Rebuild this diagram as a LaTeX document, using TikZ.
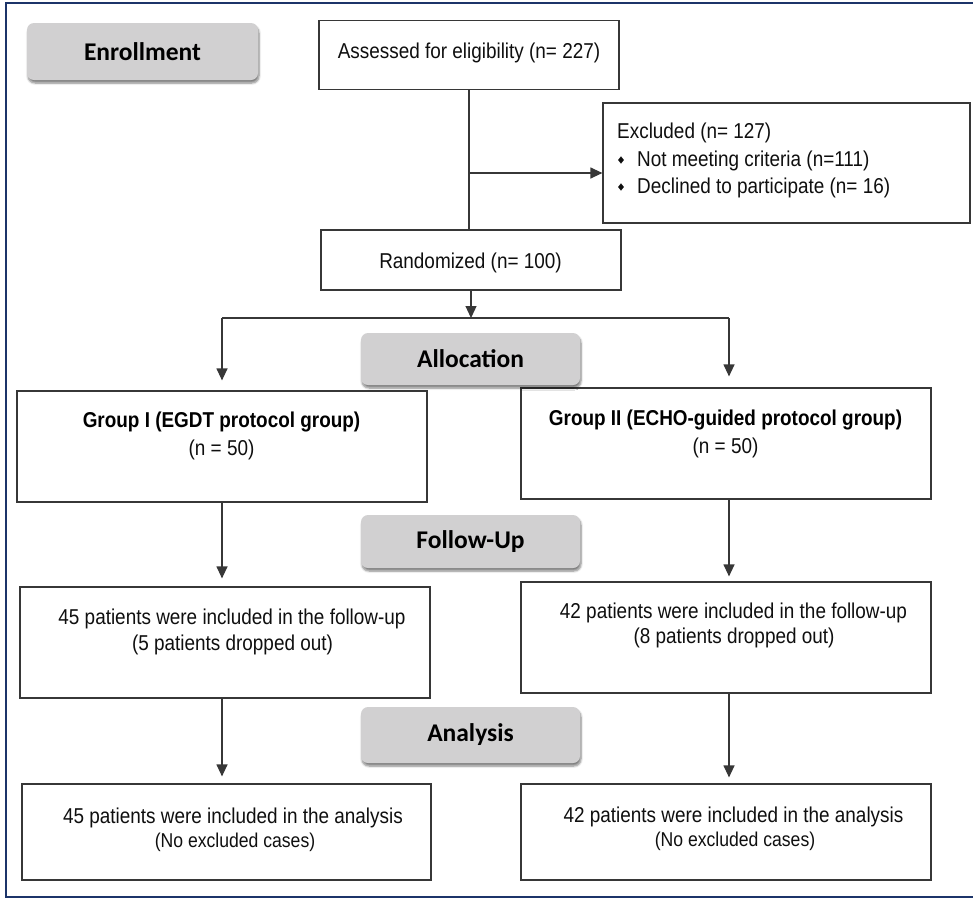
\documentclass[tikz,border=0pt]{standalone}
\usepackage{fontspec}
\setmainfont{Liberation Sans}[FakeStretch=0.88]
\newfontfamily\pillfont{Carlito}
\usetikzlibrary{arrows.meta,shapes.geometric,shadows.blur}
\definecolor{framecol}{RGB}{28,52,105}
\definecolor{pillfill}{RGB}{209,208,209}
\definecolor{linecol}{RGB}{55,55,55}
\definecolor{txtcol}{RGB}{15,15,15}
\tikzset{
  box/.style={draw=linecol, line width=1.2pt, fill=white, inner sep=0pt},
  pill/.style={fill=pillfill, rounded corners=7pt, inner sep=0pt,
    blur shadow={shadow xshift=1pt, shadow yshift=-3pt, shadow blur steps=6, shadow opacity=50},
    font=\pillfont\bfseries\fontsize{25.5}{30}\selectfont, text=black},
  txt/.style={anchor=base, inner sep=0pt, text=txtcol, font=\fontsize{21.5}{25}\selectfont},
  btxt/.style={txt, font=\bfseries\fontsize{21.5}{25}\selectfont, text=black},
  conn/.style={draw=linecol, line width=1.2pt},
  arr/.style={conn, -{Triangle[length=12pt,width=11pt]}},
  bullet/.style={diamond, fill=txtcol, inner sep=0pt, minimum width=6pt, minimum height=7.5pt}
}
\begin{document}
\begin{tikzpicture}[x=1pt,y=-1pt]
\useasboundingbox (0,0) rectangle (973,900);
% frame
\draw[framecol, line width=2pt] (973,3) -- (6,3) -- (6,897) -- (973,897);

% boxes
\node[box, minimum width=300pt, minimum height=69pt] (assess) at (469,55) {};
\node[box, minimum width=367pt, minimum height=120pt] (excl) at (786.5,163) {};
\node[box, minimum width=300pt, minimum height=60pt] (rand) at (471,260) {};
\node[box, minimum width=410pt, minimum height=111pt] (g1) at (222,446.5) {};
\node[box, minimum width=410pt, minimum height=111pt] (g2) at (726,443.5) {};
\node[box, minimum width=410pt, minimum height=111pt] (fu1) at (225,642.5) {};
\node[box, minimum width=410pt, minimum height=111pt] (fu2) at (726,637.5) {};
\node[box, minimum width=409pt, minimum height=96pt] (an1) at (226.5,832) {};
\node[box, minimum width=410pt, minimum height=96pt] (an2) at (726,832) {};

% pills
\node[pill, minimum width=231pt, minimum height=57pt] (enroll) at (142.5,51.5) {Enrollment};
\node[pill, minimum width=219pt, minimum height=52pt] (alloc) at (470.5,359) {Allocation};
\node[pill, minimum width=219pt, minimum height=53pt] (follow) at (470.5,541.5) {Follow-Up};
\node[pill, minimum width=219pt, minimum height=56pt] (analysis) at (470.5,735) {Analysis};

% texts
\node[txt] (tassess) at (469,58.5) {Assessed for eligibility (n= 227)};
\node[txt, anchor=base west] (texcl) at (617,138) {Excluded (n= 127)};
\node[bullet] (b1) at (621,160) {};
\node[txt, anchor=base west] (texcl1) at (637,166) {Not meeting criteria (n=111)};
\node[bullet] (b2) at (621,187) {};
\node[txt, anchor=base west] (texcl2) at (637,193) {Declined to participate (n= 16)};
\node[txt] (trand) at (470.5,268.5) {Randomized (n= 100)};
\node[btxt] (tg1) at (221.5,427) {Group I (EGDT protocol group)};
\node[txt] (tg1n) at (221.5,455) {(n = 50)};
\node[btxt] (tg2) at (725.5,425) {Group II (ECHO-guided protocol group)};
\node[txt] (tg2n) at (725.5,453) {(n = 50)};
\node[txt] (tfu1) at (232,624.5) {45 patients were included in the follow-up};
\node[txt] (tfu1b) at (232.5,650.5) {(5 patients dropped out)};
\node[txt] (tfu2) at (733.5,618.5) {42 patients were included in the follow-up};
\node[txt] (tfu2b) at (734,643.5) {(8 patients dropped out)};
\node[txt] (tan1) at (233,823.5) {45 patients were included in the analysis};
\node[txt, font=\fontsize{20}{23}\selectfont] (tan1b) at (235,847.5) {(No excluded cases)};
\node[txt] (tan2) at (733.5,822.5) {42 patients were included in the analysis};
\node[txt, font=\fontsize{20}{23}\selectfont] (tan2b) at (735,846.5) {(No excluded cases)};

% connectors
\coordinate (trunk) at (469,173);
\coordinate (split) at (471,318);
\coordinate (sL) at (222,318);
\coordinate (sR) at (729,318);
\draw[conn] (assess.south -| trunk) -- (rand.north -| trunk);
\draw[arr] (trunk) -- (trunk -| excl.west);
\draw[arr] (rand.south) -- (split);
\draw[conn] (sL) -- (sR);
\draw[arr, shorten >=10pt] (sL) -- (sL |- g1.north);
\draw[arr, shorten >=11pt] (sR) -- (sR |- g2.north);
\draw[arr, shorten >=8pt] (g1.south) -- (g1.south |- fu1.north);
\draw[arr, shorten >=5pt] (sR |- g2.south) -- (sR |- fu2.north);
\draw[arr, shorten >=7pt] (g1.south |- fu1.south) -- (g1.south |- an1.north);
\draw[arr, shorten >=6pt] (sR |- fu2.south) -- (sR |- an2.north);
\end{tikzpicture}
\end{document}
